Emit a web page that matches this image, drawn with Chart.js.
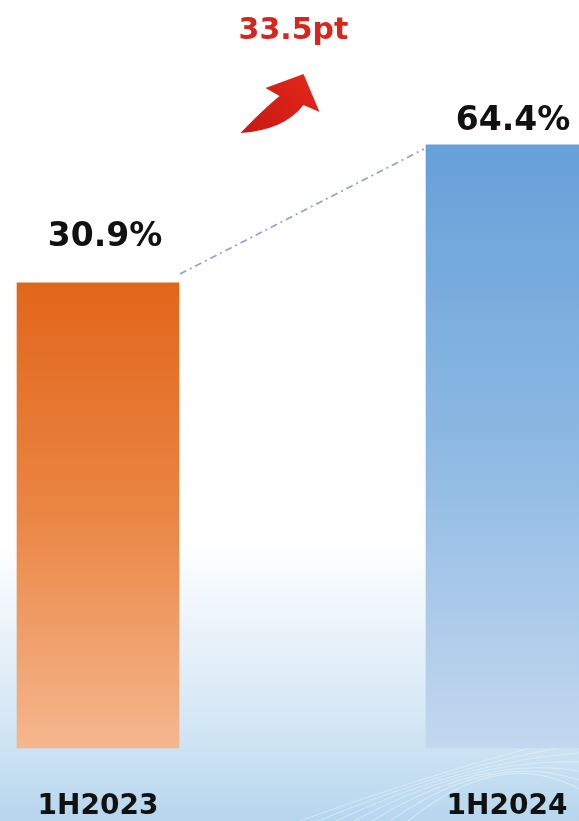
<!DOCTYPE html>
<html>
<head>
<meta charset="utf-8">
<script src="https://cdn.jsdelivr.net/npm/chart.js@4.4.1/dist/chart.umd.min.js"></script>
<style>
  html, body { margin: 0; padding: 0; background: #ffffff; overflow: hidden; }
  #wrap { width: 579px; height: 821px; position: relative; }
  canvas { display: block; }
</style>
</head>
<body>
<div id="wrap"><canvas id="chart" width="579" height="821"></canvas></div>
<script>
// Half-year share values (%)
const periods = ['1H2023', '1H2024'];
const shareValues = [30.9, 64.4];

// Value axis window (the bars rise from the bottom of this window)
const axisMin = -82;
const axisMax = 90;

// Per-bar colour ramps, top → bottom
const barRamps = [
  ['#e1661a', '#ea8644', '#f5b78e'],
  ['#66a0d8', '#8db9e3', '#c4d8ef']
];

// Label placement tweaks per bar: [horizontal shift, gap above bar top]
const labelShift = [[7, 37], [6, 15]];

const FONT = '"DejaVu Sans", "Open Sans", sans-serif';

function barFill(ctx) {
  const chart = ctx.chart;
  const area = chart.chartArea;
  const i = ctx.dataIndex;
  const ramp = barRamps[i] || barRamps[0];
  if (!area) return ramp[0];
  const y = chart.scales.y;
  const top = y.getPixelForValue(shareValues[i]);
  const bottom = y.getPixelForValue(axisMin);
  const g = chart.ctx.createLinearGradient(0, top, 0, bottom);
  g.addColorStop(0, ramp[0]);
  g.addColorStop(0.5, ramp[1]);
  g.addColorStop(1, ramp[2]);
  return g;
}

// Soft white-to-blue backdrop with faint light streaks
const backdrop = {
  id: 'backdrop',
  beforeDraw(chart) {
    const { ctx, width, height } = chart;
    ctx.save();
    ctx.fillStyle = '#ffffff';
    ctx.fillRect(0, 0, width, height);
    const g = ctx.createLinearGradient(0, 540, 0, height);
    g.addColorStop(0, 'rgba(255,255,255,1)');
    g.addColorStop(0.35, '#e8f2fa');
    g.addColorStop(0.7, '#d0e5f4');
    g.addColorStop(1, '#b6d6ee');
    ctx.fillStyle = g;
    ctx.fillRect(0, 540, width, height - 540);
    ctx.strokeStyle = 'rgba(255,255,255,0.35)';
    ctx.lineWidth = 1.2;
    for (let k = 0; k < 7; k++) {
      ctx.beginPath();
      ctx.moveTo(300 + k * 18, height);
      ctx.quadraticCurveTo(440 + k * 10, 770 - k * 4, width, 735 + k * 9);
      ctx.stroke();
    }
    ctx.restore();
  }
};

// Dash-dot link between the bar tops, value labels, change arrow
const annotations = {
  id: 'annotations',
  afterDatasetsDraw(chart) {
    const { ctx } = chart;
    const bars = chart.getDatasetMeta(0).data;
    if (bars.length < 2) return;
    const a = bars[0], b = bars[1];

    ctx.save();
    // connector
    ctx.strokeStyle = '#8fa3d4';
    ctx.lineWidth = 1.8;
    ctx.setLineDash([7, 4, 2, 4]);
    ctx.beginPath();
    ctx.moveTo(a.x + a.width / 2 + 1, a.y - 9);
    ctx.lineTo(b.x - b.width / 2 - 2, b.y + 4);
    ctx.stroke();
    ctx.setLineDash([]);

    // value labels
    ctx.fillStyle = '#111111';
    ctx.font = 'bold 33px ' + FONT;
    ctx.textAlign = 'center';
    ctx.textBaseline = 'alphabetic';
    bars.forEach((el, i) => {
      const [dx, gap] = labelShift[i];
      ctx.fillText(shareValues[i].toFixed(1) + '%', el.x + dx, el.y - gap);
    });

    // change between the two periods
    const delta = shareValues[1] - shareValues[0];
    const mid = (a.x + b.x) / 2;
    ctx.fillStyle = '#d8261c';
    ctx.font = 'bold 30px ' + FONT;
    ctx.fillText(delta.toFixed(1) + 'pt', mid - 9, 39);

    // curved upward arrow
    const ox = mid - 302, oy = 0;
    const ag = ctx.createLinearGradient(ox + 240, 133, ox + 315, 80);
    ag.addColorStop(0, '#c41a12');
    ag.addColorStop(1, '#e3261a');
    ctx.fillStyle = ag;
    ctx.beginPath();
    ctx.moveTo(ox + 240, oy + 133);
    ctx.quadraticCurveTo(ox + 262, oy + 110, ox + 279, oy + 96);
    ctx.lineTo(ox + 265, oy + 88);
    ctx.lineTo(ox + 303, oy + 74);
    ctx.lineTo(ox + 319, oy + 112);
    ctx.lineTo(ox + 303, oy + 105);
    ctx.quadraticCurveTo(ox + 284, oy + 130, ox + 240, oy + 133);
    ctx.closePath();
    ctx.fill();
    ctx.restore();
  }
};

new Chart(document.getElementById('chart'), {
  type: 'bar',
  data: {
    labels: periods,
    datasets: [{
      data: shareValues,
      base: axisMin,
      backgroundColor: barFill,
      borderWidth: 0,
      barThickness: 162,
      clip: false
    }]
  },
  options: {
    responsive: false,
    animation: false,
    devicePixelRatio: 1,
    layout: { padding: { left: 98, right: 72, top: 39.5, bottom: 0 } },
    plugins: { legend: { display: false }, tooltip: { enabled: false } },
    scales: {
      x: {
        offset: false,
        grid: { display: false, drawTicks: false },
        border: { display: false },
        ticks: {
          padding: 42,
          color: '#111111',
          font: { family: FONT, size: 28, weight: 'bold' },
          maxRotation: 0,
          autoSkip: false
        },
        afterFit(scale) {
          scale.height = 73;
          scale.paddingLeft = 0;
          scale.paddingRight = 0;
        }
      },
      y: {
        display: false,
        min: axisMin,
        max: axisMax
      }
    }
  },
  plugins: [backdrop, annotations]
});
</script>
</body>
</html>
